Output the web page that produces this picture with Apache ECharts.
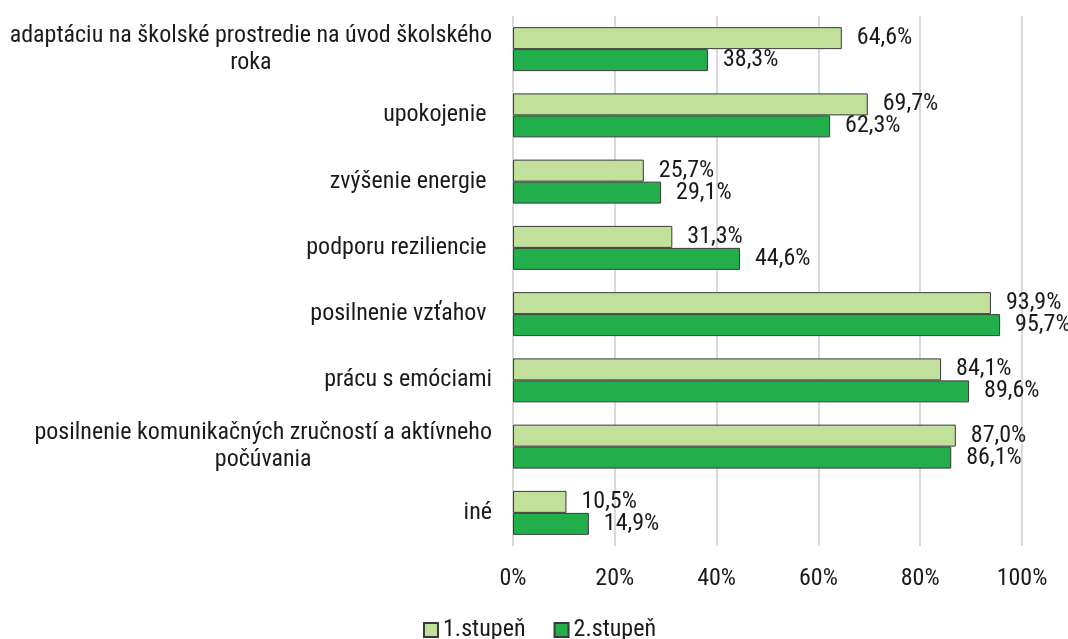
<!DOCTYPE html>
<html><head><meta charset="utf-8">
<script src="https://cdn.jsdelivr.net/npm/echarts@6/dist/echarts.min.js"></script>
<style>html,body{margin:0;padding:0;background:#fff}#chart{width:1068px;height:639px}</style>
</head><body><div id="chart"></div>
<script>
const categories = [
  'adaptáciu na školské prostredie na úvod školského\nroka',
  'upokojenie ',
  'zvýšenie energie ',
  'podporu reziliencie ',
  'posilnenie vzťahov ',
  'prácu s emóciami',
  'posilnenie komunikačných zručností a aktívneho\npočúvania',
  'iné'
];
const seriesNames = ['1.stupeň', '2.stupeň'];
const stupen1 = [64.6, 69.7, 25.7, 31.3, 93.9, 84.1, 87.0, 10.5];
const stupen2 = [38.3, 62.3, 29.1, 44.6, 95.7, 89.6, 86.1, 14.9];
const xTicks = [0, 20, 40, 60, 80, 100];

const FONT = '"Roboto Condensed", Roboto, sans-serif';
const FS = 24;
const TXT = '#1a1a1a';
const chart = echarts.init(document.getElementById('chart'), null, {renderer: 'canvas'});
const fmtPct = v => v.toFixed(1).replace('.', ',') + '%';
const mkSeries = (name, data, color) => ({
  name, type: 'bar', data,
  barGap: '0%', barCategoryGap: '33.6%',
  itemStyle: {color, borderColor: '#3a3a3a', borderWidth: 1},
  label: {show: true, position: 'right', distance: 15, fontFamily: FONT, fontSize: FS, color: TXT,
          formatter: p => fmtPct(p.value)},
  emphasis: {disabled: true}
});
chart.setOption({
  animation: false,
  backgroundColor: '#fff',
  textStyle: {fontFamily: FONT},
  grid: {left: 513, right: 46, top: 16, bottom: 93, containLabel: false, outerBoundsMode: 'none'},
  legend: {
    data: seriesNames, top: 618, left: 423, icon: 'rect', itemWidth: 14, itemHeight: 14, itemGap: 28,
    padding: 0,
    textStyle: {fontFamily: FONT, fontSize: FS, color: TXT}
  },
  xAxis: {
    type: 'value', min: 0, max: 100, interval: 20,
    axisLine: {show: false}, axisTick: {show: false},
    splitLine: {show: true, lineStyle: {color: '#d9d9d9', width: 2}},
    axisLabel: {fontFamily: FONT, fontSize: FS, color: TXT, margin: 21,
                formatter: v => xTicks.includes(v) ? v + '%' : ''}
  },
  yAxis: {
    type: 'category', data: categories, inverse: true,
    axisLine: {show: false}, axisTick: {show: false},
    axisLabel: {
      margin: 21, fontFamily: FONT, fontSize: FS, color: TXT,
      formatter: v => v.split('\n').map(s => '{c|' + s + '}').join('\n'),
      rich: {c: {align: 'center', fontFamily: FONT, fontSize: FS, color: TXT, lineHeight: 27}}
    }
  },
  series: [
    mkSeries(seriesNames[0], stupen1, '#c1e09c'),
    mkSeries(seriesNames[1], stupen2, '#22ae4a')
  ]
});
</script></body></html>
